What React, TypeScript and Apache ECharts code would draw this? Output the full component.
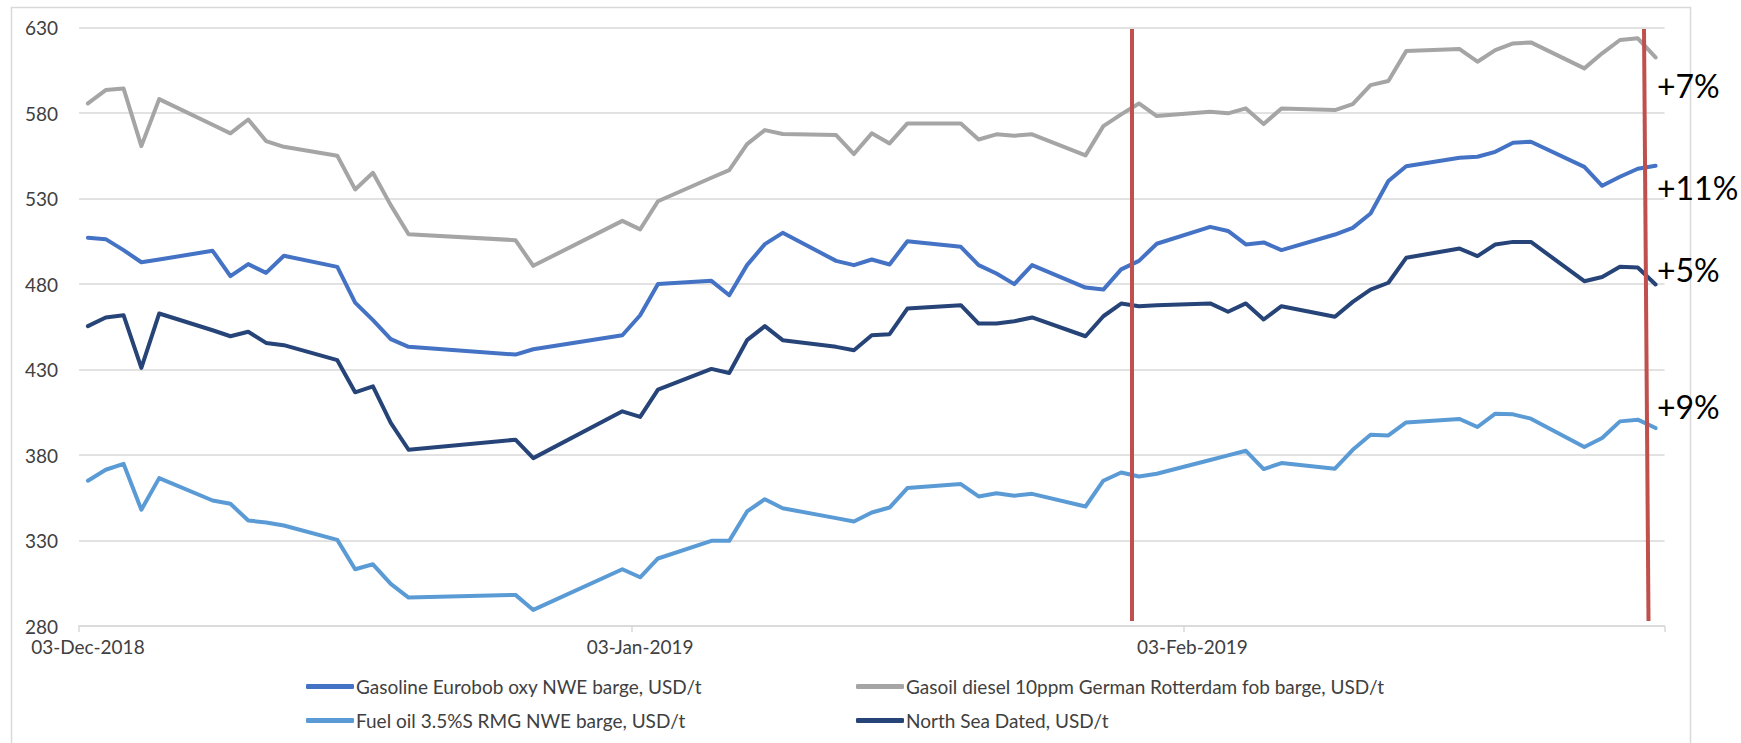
import React, { useEffect, useRef } from "react";
import * as echarts from "echarts";

// ---- DATA ----
const tradeDates = [
  "2018-12-03", "2018-12-04", "2018-12-05", "2018-12-06", "2018-12-07",
  "2018-12-10", "2018-12-11", "2018-12-12", "2018-12-13", "2018-12-14",
  "2018-12-17", "2018-12-18", "2018-12-19", "2018-12-20", "2018-12-21",
  "2018-12-27", "2018-12-28",
  "2019-01-02", "2019-01-03", "2019-01-04",
  "2019-01-07", "2019-01-08", "2019-01-09", "2019-01-10", "2019-01-11",
  "2019-01-14", "2019-01-15", "2019-01-16", "2019-01-17", "2019-01-18",
  "2019-01-21", "2019-01-22", "2019-01-23", "2019-01-24", "2019-01-25",
  "2019-01-28", "2019-01-29", "2019-01-30", "2019-01-31", "2019-02-01",
  "2019-02-04", "2019-02-05", "2019-02-06", "2019-02-07", "2019-02-08",
  "2019-02-11", "2019-02-12", "2019-02-13", "2019-02-14", "2019-02-15",
  "2019-02-18", "2019-02-19", "2019-02-20", "2019-02-21", "2019-02-22",
  "2019-02-25", "2019-02-26", "2019-02-27", "2019-02-28", "2019-03-01",
];

const gasoline = [
  507.1, 506.3, 499.9, 492.8, 494.4,
  499.5, 484.7, 491.7, 486.6, 496.6,
  490.1, 469.2, 458.9, 447.8, 443.3,
  438.8, 441.9,
  450.1, 461.8, 480.0,
  481.9, 473.5, 491.1, 503.4, 510.0,
  493.6, 491.1, 494.4, 491.5, 505.1,
  501.8, 491.1, 486.2, 480.0, 491.1,
  478.0, 476.8, 488.6, 493.6, 503.6,
  513.5, 511.1, 503.2, 504.4, 499.9,
  509.0, 512.9, 521.3, 540.3, 549.0,
  553.9, 554.5, 557.4, 562.7, 563.3,
  548.6, 537.5, 542.8, 547.5, 549.2,
];

const gasoil = [
  585.7, 593.5, 594.5, 560.7, 588.2,
  573.2, 568.2, 576.3, 563.7, 560.3,
  555.1, 535.4, 545.1, 526.2, 509.2,
  505.7, 490.7,
  517.0, 512.0, 528.5,
  542.2, 546.7, 561.9, 570.1, 567.8,
  567.2, 556.1, 568.2, 562.3, 574.0,
  574.0, 564.6, 567.6, 566.8, 567.6,
  555.3, 572.4, 579.3, 585.7, 578.3,
  580.8, 579.9, 582.8, 573.6, 582.8,
  581.8, 585.3, 596.4, 598.8, 616.3,
  617.5, 610.1, 616.9, 620.8, 621.4,
  606.2, 615.0, 622.8, 623.8, 612.6,
];

const fuelOil = [
  365.0, 371.4, 374.9, 348.0, 366.5,
  353.4, 351.5, 341.7, 340.6, 338.8,
  330.4, 313.2, 316.1, 304.6, 296.6,
  298.2, 289.4,
  313.2, 308.5, 319.5,
  329.8, 329.8, 347.0, 354.2, 348.9,
  343.1, 341.1, 346.4, 349.3, 360.7,
  363.0, 355.8, 357.7, 356.2, 357.3,
  349.9, 365.0, 369.8, 367.5, 369.1,
  377.1, 379.8, 382.5, 371.8, 375.3,
  372.0, 383.1, 391.9, 391.5, 399.1,
  401.1, 396.4, 404.2, 403.8, 401.3,
  384.7, 390.0, 399.7, 400.7, 395.8,
];

const northSea = [
  455.4, 460.5, 461.8, 431.0, 462.8,
  453.0, 449.5, 452.1, 445.6, 444.3,
  435.5, 416.7, 420.2, 398.8, 383.1,
  389.0, 378.2,
  405.6, 402.3, 418.3,
  430.4, 428.0, 447.2, 455.4, 447.2,
  443.3, 441.3, 450.1, 450.7, 465.7,
  467.7, 456.9, 456.9, 458.3, 460.5,
  449.5, 461.2, 468.6, 467.1, 467.7,
  468.7, 463.8, 468.7, 459.3, 467.1,
  460.9, 469.6, 476.8, 480.8, 495.4,
  500.8, 496.4, 503.2, 504.7, 504.7,
  481.7, 484.2, 490.1, 489.7, 479.8,
];

const seriesNames = [
  "Gasoline Eurobob oxy NWE barge, USD/t",
  "Gasoil diesel 10ppm German Rotterdam fob barge, USD/t",
  "Fuel oil 3.5%S RMG NWE barge, USD/t",
  "North Sea Dated, USD/t",
];
const seriesColors = ["#4472C4", "#A5A5A5", "#5B9BD5", "#264478"];
const labelDates = ["2018-12-03", "2019-01-03", "2019-02-03"];
const changeLabels = ["+7%", "+11%", "+5%", "+9%"];
const yMin = 280;
const yMax = 630;
const yStep = 50;

const MONTHS = ["Jan", "Feb", "Mar", "Apr", "May", "Jun", "Jul", "Aug", "Sep", "Oct", "Nov", "Dec"];

function buildCalendar(first: string, last: string): string[] {
  const out: string[] = [];
  const d = new Date(first + "T00:00:00Z");
  const end = new Date(last + "T00:00:00Z");
  while (d.getTime() <= end.getTime()) {
    out.push(d.toISOString().slice(0, 10));
    d.setUTCDate(d.getUTCDate() + 1);
  }
  return out;
}

function fmtDate(s: string): string {
  const [y, m, d] = s.split("-");
  return `${d}-${MONTHS[parseInt(m, 10) - 1]}-${y}`;
}

export default function App() {
  const ref = useRef<HTMLDivElement>(null);

  useEffect(() => {
    if (!ref.current) return;
    const chart = echarts.init(ref.current, undefined, { renderer: "svg" });
    const categories = buildCalendar(tradeDates[0], tradeDates[tradeDates.length - 1]);
    const labelIdx = labelDates.map((d) => categories.indexOf(d));
    const align = (vals: number[]) => {
      const map: Record<string, number> = {};
      tradeDates.forEach((d, i) => (map[d] = vals[i]));
      return categories.map((c) => (c in map ? map[c] : null));
    };
    const allVals = [gasoline, gasoil, fuelOil, northSea];
    const font = "Lato";
    const fs = 19;

    const legendPos = [
      { left: 306, top: 677 },
      { left: 856, top: 677 },
      { left: 306, top: 711 },
      { left: 856, top: 711 },
    ];

    const textPos = [
      { x: 1657, y: 85 },
      { x: 1657, y: 187 },
      { x: 1657, y: 269 },
      { x: 1657, y: 406 },
    ];

    chart.setOption({
      animation: false,
      backgroundColor: "#ffffff",
      textStyle: { fontFamily: font },
      grid: { left: 79, right: 76.5, top: 27.7, bottom: 117, containLabel: false },
      xAxis: {
        type: "category",
        data: categories,
        boundaryGap: true,
        axisLine: { show: true, lineStyle: { color: "#D9D9D9", width: 1.5 } },
        axisTick: {
          show: true,
          length: 6,
          alignWithLabel: false,
          interval: (i: number) => labelIdx.includes(i),
          lineStyle: { color: "#D9D9D9", width: 1.5 },
        },
        axisLabel: {
          interval: (i: number) => labelIdx.includes(i),
          formatter: (v: string) => fmtDate(v),
          color: "#404040",
          fontSize: fs,
          fontFamily: font,
          margin: 11,
        },
        splitLine: { show: false },
      },
      yAxis: {
        type: "value",
        min: yMin,
        max: yMax,
        interval: yStep,
        axisLine: { show: false },
        axisTick: { show: false },
        axisLabel: { color: "#404040", fontSize: fs, fontFamily: font, margin: 21 },
        splitLine: { show: true, lineStyle: { color: "#D9D9D9", width: 1.5 } },
      },
      legend: seriesNames.map((n, i) => ({
        data: [n],
        left: legendPos[i].left,
        top: legendPos[i].top,
        padding: 0,
        icon: "roundRect",
        itemWidth: 48,
        itemHeight: 5,
        itemGap: 4,
        selectedMode: false,
        textStyle: { color: "#404040", fontSize: fs, fontFamily: font, padding: [0, 0, 0, -3] },
      })),
      series: seriesNames.map((n, i) => ({
        name: n,
        type: "line",
        data: align(allVals[i]),
        connectNulls: true,
        showSymbol: false,
        symbol: "none",
        color: seriesColors[i],
        lineStyle: { color: seriesColors[i], width: 4, cap: "round", join: "round" },
      })),
      graphic: [
        {
          type: "rect",
          silent: true,
          shape: { x: 11.5, y: 7.5, width: 1679, height: 800 },
          style: { fill: "none", stroke: "#D9D9D9", lineWidth: 1.5 },
        },
        {
          type: "line",
          silent: true,
          z: 100,
          shape: { x1: 1132, y1: 29, x2: 1132, y2: 621 },
          style: { stroke: "#C0504D", lineWidth: 4 },
        },
        {
          type: "line",
          silent: true,
          z: 100,
          shape: { x1: 1644, y1: 29, x2: 1648.5, y2: 621 },
          style: { stroke: "#C0504D", lineWidth: 4 },
        },
        ...changeLabels.map((t, i) => ({
          type: "text",
          silent: true,
          z: 101,
          x: textPos[i].x,
          y: textPos[i].y,
          style: {
            text: t,
            fill: "#000000",
            font: `32px ${font}`,
            align: "left",
            verticalAlign: "middle",
          },
        })),
      ],
    });

    return () => chart.dispose();
  }, []);

  return (
    <div
      ref={ref}
      style={{ position: "fixed", left: 0, top: 0, width: 1741, height: 743, background: "#fff" }}
    />
  );
}
